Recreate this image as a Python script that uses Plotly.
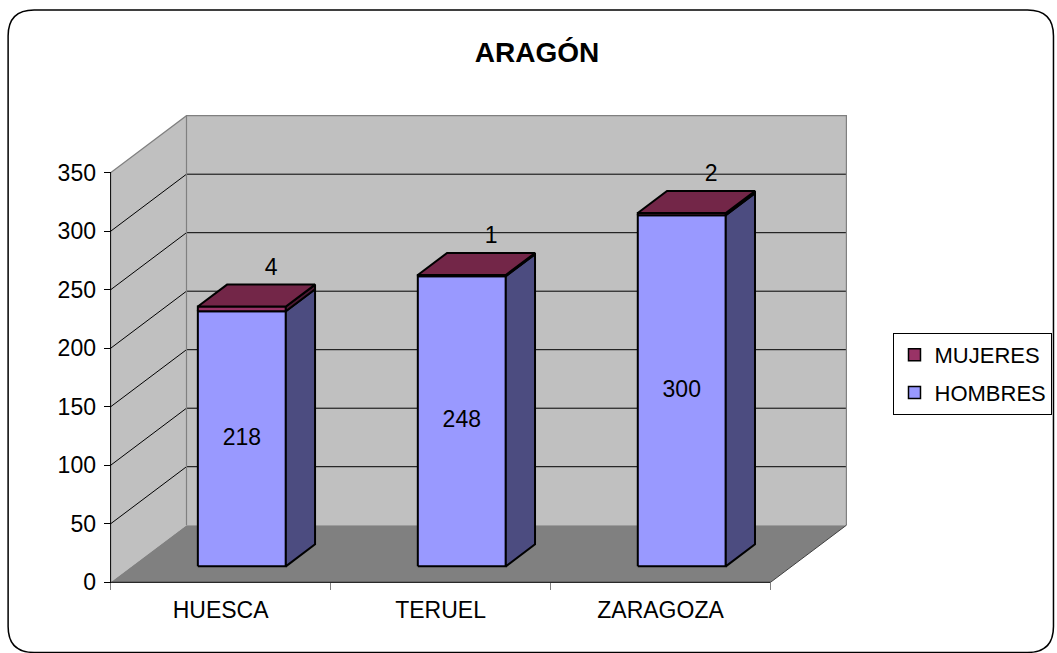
import plotly.graph_objects as go

# ---------------- data ----------------
categories = ["HUESCA", "TERUEL", "ZARAGOZA"]
hombres = [218, 248, 300]
mujeres = [4, 1, 2]
y_ticks = [0, 50, 100, 150, 200, 250, 300, 350]
title_text = "ARAGÓN"

# ---------------- styling / projection ----------------
W, H = 1057, 653
Y_MAX = 350
DX = 0.345          # depth shift (category units)
DY = 48.8           # depth shift (value units)
F_FRONT, F_BACK = 0.28, 0.665
HALF = 0.2
LBL_DX = 0.23
FONT = "Liberation Sans, Arial, sans-serif"
FS = 23

X0PX, Y0PX = 111, 582
SX = 220.0
SY = 409 / 350
PADX, PADY = 0.03, 4.0
n = len(categories)
xr = [-PADX, n + DX + PADX]
yr = [-PADY, Y_MAX + DY + PADY]
ml = X0PX - PADX * SX
mr = W - (X0PX + (n + DX + PADX) * SX)
mb = H - (Y0PX + PADY * SY)
mt = Y0PX - (Y_MAX + DY + PADY) * SY
PW, PH = W - ml - mr, H - mt - mb


def paper_x(px):
    return (px - ml) / PW


def paper_y(py):
    return (H - mb - py) / PH


def polys(list_of_pts):
    xs, ys = [], []
    for pts in list_of_pts:
        for p in pts + [pts[0]]:
            xs.append(p[0]); ys.append(p[1])
        xs.append(None); ys.append(None)
    return xs, ys


def segs(list_of_segs):
    xs, ys = [], []
    for s in list_of_segs:
        for p in s:
            xs.append(p[0]); ys.append(p[1])
        xs.append(None); ys.append(None)
    return xs, ys


fig = go.Figure()


def add_fill(pts_list, fill, line_color=None, lw=0):
    xs, ys = polys(pts_list)
    fig.add_trace(go.Scatter(
        x=xs, y=ys, mode="lines", fill="toself", fillcolor=fill,
        line=dict(color=line_color or fill, width=lw),
        hoverinfo="skip", showlegend=False))


def add_lines(seg_list, color, lw=1):
    xs, ys = segs(seg_list)
    fig.add_trace(go.Scatter(
        x=xs, y=ys, mode="lines", line=dict(color=color, width=lw),
        hoverinfo="skip", showlegend=False))


# walls and floor
add_fill([[(0, 0), (DX, DY), (DX, Y_MAX + DY), (0, Y_MAX)]], "#C0C0C0")
add_fill([[(DX, DY), (n + DX, DY), (n + DX, Y_MAX + DY), (DX, Y_MAX + DY)]], "#C0C0C0")
add_fill([[(0, 0), (n, 0), (n + DX, DY), (DX, DY)]], "#808080")

# gridlines
grid = []
for v in y_ticks[1:-1]:
    grid.append([(0, v), (DX, v + DY), (n + DX, v + DY)])
add_lines(grid, "#000000", 1)

# wall edges
add_lines([[(0, Y_MAX), (DX, Y_MAX + DY), (n + DX, Y_MAX + DY), (n + DX, DY)],
           [(DX, DY), (DX, Y_MAX + DY)]], "#808080", 1.2)
add_lines([[(n, 0), (n + DX, DY)]], "#404040", 1)

# axis lines
add_lines([[(0, 0), (0, Y_MAX)], [(0, 0), (n, 0)]], "#000000", 1)

# bars
ox1, oy1 = F_FRONT * DX, F_FRONT * DY
ox2, oy2 = F_BACK * DX, F_BACK * DY


def faces(base, top):
    fr, sd, tp = [], [], []
    for i in range(n):
        c = i + 0.5
        b, t = base[i], top[i]
        fr.append([(c - HALF + ox1, b + oy1), (c + HALF + ox1, b + oy1),
                   (c + HALF + ox1, t + oy1), (c - HALF + ox1, t + oy1)])
        sd.append([(c + HALF + ox1, b + oy1), (c + HALF + ox2, b + oy2),
                   (c + HALF + ox2, t + oy2), (c + HALF + ox1, t + oy1)])
        tp.append([(c - HALF + ox1, t + oy1), (c + HALF + ox1, t + oy1),
                   (c + HALF + ox2, t + oy2), (c - HALF + ox2, t + oy2)])
    return fr, sd, tp


zero = [0] * n
tot = [h + m for h, m in zip(hombres, mujeres)]
fr, sd, tp = faces(zero, hombres)
add_fill(fr, "#9999FF", "#000000", 2)
add_fill(sd, "#4C4C80", "#000000", 2)
fr, sd, tp = faces(hombres, tot)
add_fill(fr, "#993366", "#000000", 2)
add_fill(sd, "#4C1933", "#000000", 2)
add_fill(tp, "#732648", "#000000", 2)

# data labels
fig.add_trace(go.Scatter(
    x=[i + 0.5 + ox1 for i in range(n)], y=[h / 2 + oy1 for h in hombres],
    mode="text", text=[str(h) for h in hombres],
    textfont=dict(family=FONT, size=FS, color="#000000"),
    hoverinfo="skip", showlegend=False))
fig.add_trace(go.Scatter(
    x=[i + 0.5 + LBL_DX for i in range(n)], y=[t + DY - 3 for t in tot],
    mode="text", text=[str(m) for m in mujeres],
    textfont=dict(family=FONT, size=FS, color="#000000"),
    hoverinfo="skip", showlegend=False))

# legend entries
fig.add_trace(go.Scatter(x=[None], y=[None], mode="markers", name="MUJERES",
                         legendgroup="m",
                         marker=dict(symbol="square", size=12, color="#993366",
                                     line=dict(color="#000000", width=1.5))))
fig.add_trace(go.Scatter(x=[None], y=[None], mode="markers", name="HOMBRES",
                         legendgroup="h",
                         marker=dict(symbol="square", size=12, color="#9999FF",
                                     line=dict(color="#000000", width=1.5))))

# rounded outer frame (paper coords)
bx0, by0, bx1, by1, rad = 8.5, 10.5, 1054, 652, 26
X0, X1 = paper_x(bx0), paper_x(bx1)
Y0, Y1 = paper_y(by0), paper_y(by1)
rx, ry = rad / PW, rad / PH
path = (f"M {X0 + rx},{Y0} L {X1 - rx},{Y0} Q {X1},{Y0} {X1},{Y0 - ry} "
        f"L {X1},{Y1 + ry} Q {X1},{Y1} {X1 - rx},{Y1} "
        f"L {X0 + rx},{Y1} Q {X0},{Y1} {X0},{Y1 + ry} "
        f"L {X0},{Y0 - ry} Q {X0},{Y0} {X0 + rx},{Y0} Z")
fig.add_shape(type="path", path=path, xref="paper", yref="paper",
              line=dict(color="#000000", width=1.5), layer="below")

fig.update_layout(
    width=W, height=H,
    margin=dict(l=ml, r=mr, t=mt, b=mb, pad=0, autoexpand=False),
    paper_bgcolor="#FFFFFF", plot_bgcolor="rgba(0,0,0,0)",
    font=dict(family=FONT, size=FS, color="#000000"),
    title=dict(text=f"<b>{title_text}</b>", x=537 / W, y=1 - 52 / H,
               xref="container", yref="container",
               xanchor="center", yanchor="middle",
               font=dict(family=FONT, size=28, color="#000000")),
    showlegend=True,
    legend=dict(x=paper_x(894), y=paper_y(333), xanchor="left", yanchor="top",
                bordercolor="#000000", borderwidth=1, bgcolor="#FFFFFF",
                font=dict(family=FONT, size=22, color="#000000"),
                traceorder="grouped", tracegroupgap=6),
    xaxis=dict(range=xr, showgrid=False, zeroline=False, showline=False,
               tickmode="array", tickvals=[i + 0.5 for i in range(n)],
               ticktext=categories, ticks="", anchor="free",
               position=PADY / (yr[1] - yr[0]), ticklabelstandoff=12,
               minor=dict(tickmode="array", tickvals=list(range(n + 1)),
                          ticks="outside", ticklen=7, tickcolor="#808080",
                          tickwidth=1, showgrid=False),
               fixedrange=True, automargin=False),
    yaxis=dict(range=yr, showgrid=False, zeroline=False, showline=False,
               tickmode="array", tickvals=y_ticks, ticks="outside", ticklen=7,
               tickcolor="#000000", tickwidth=1, anchor="free",
               position=PADX / (xr[1] - xr[0]), ticklabelstandoff=3,
               fixedrange=True, automargin=False),
)

fig.write_html("out.html", config={"displayModeBar": False},
               post_script="document.body.style.margin='0px';")
